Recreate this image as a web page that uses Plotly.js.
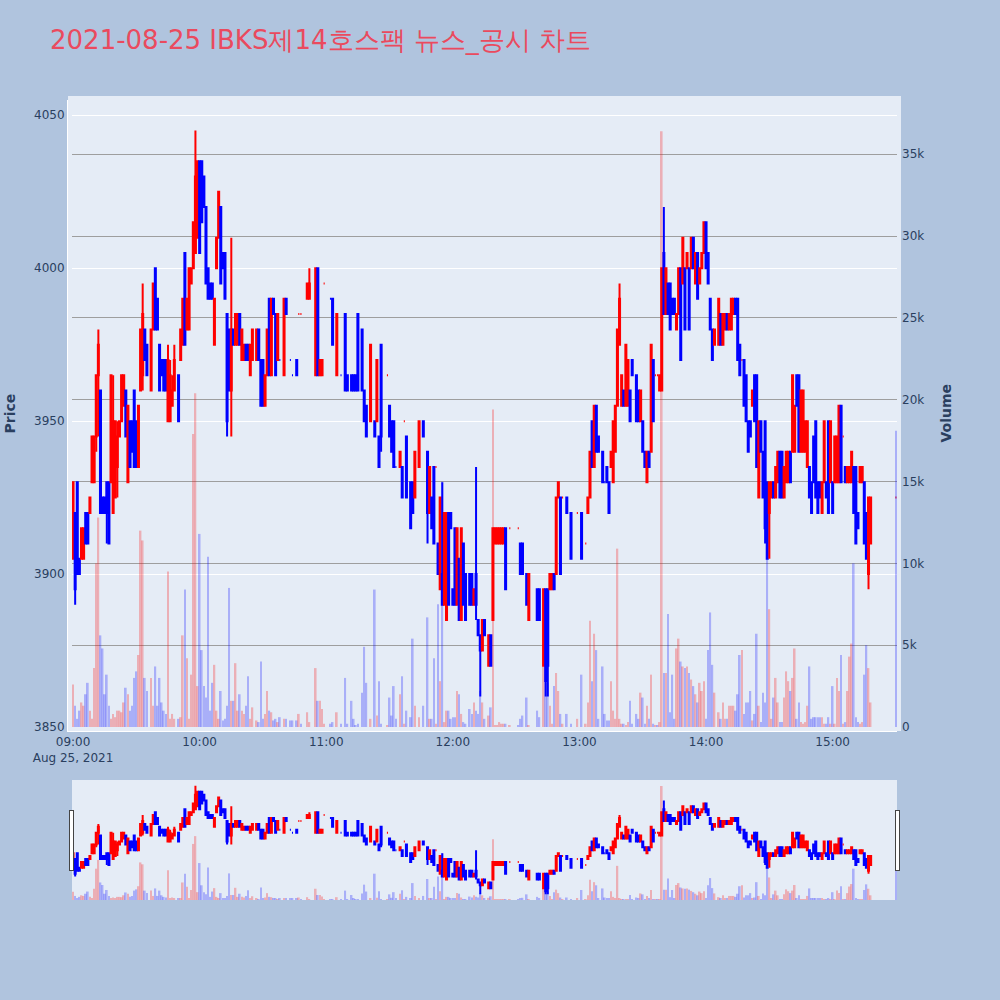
<!DOCTYPE html>
<html>
<head>
<meta charset="utf-8">
<script src="https://cdn.plot.ly/plotly-3.0.1.min.js"></script>
<style>html,body{margin:0;padding:0;background:#B0C4DE;}</style>
</head>
<body>
<div id="chart" style="width:1000px;height:1000px;"></div>
<script>
// minutes after 09:00 on 2021-08-25
const minutes = [0,1,2,3,4,5,6,7,8,9,10,11,12,13,14,15,16,17,18,19,20,21,22,23,24,25,26,27,28,29,30,31,32,33,34,35,37,38,39,40,41,42,43,44,45,46,47,48,50,51,52,53,54,55,56,57,58,59,60,61,62,63,64,65,66,67,68,69,70,71,72,73,74,75,76,77,78,79,80,81,82,83,84,85,87,88,89,90,91,92,93,94,95,96,97,98,100,101,103,104,106,107,108,111,112,115,116,117,118,119,122,123,125,127,129,130,132,133,134,135,137,138,139,141,143,144,145,146,149,150,151,152,153,155,156,157,158,160,161,162,164,166,168,169,170,171,172,173,174,175,176,177,178,179,180,181,182,183,184,185,186,188,189,190,191,192,193,194,195,197,198,199,200,201,202,203,204,205,207,211,212,213,215,216,220,221,223,224,225,226,227,228,229,230,231,232,234,236,239,241,243,244,245,246,247,248,249,251,252,253,254,255,256,257,258,259,260,261,262,263,264,265,267,268,269,270,271,272,273,274,275,276,277,278,279,280,281,282,283,284,285,286,287,288,289,290,291,292,293,294,295,296,297,298,299,300,301,302,303,304,306,307,308,309,310,311,312,313,314,315,316,317,318,319,320,321,322,323,324,325,326,327,328,329,330,331,332,333,334,335,336,337,338,339,340,341,342,343,344,345,346,347,348,349,350,351,352,353,354,355,356,357,358,359,360,361,362,363,364,365,366,367,368,369,370,371,372,373,374,375,376,377,378,390];
const openP = [3905,3920,3930,3905,3905,3905,3920,3920,3920,3930,3930,3945,3965,3960,3925,3925,3930,3930,3930,3920,3925,3935,3945,3950,3955,3960,3930,3950,3950,3960,3950,3935,3960,3965,3980,3975,3960,3980,4000,3990,3975,3970,3970,3970,3950,3950,3955,3960,3965,3970,3975,4005,3980,3980,3995,4000,4005,4010,4035,4035,4030,4020,4000,3995,3995,3975,4000,4010,4020,4005,4005,3985,3980,3960,3980,3975,3975,3985,3970,3970,3975,3975,3965,3970,3970,3980,3970,3970,3955,3965,3990,3965,3990,3985,3970,3970,3965,3990,3970,3965,3970,3985,3985,3990,3990,3965,4000,3965,3965,3995,3990,3990,3965,3965,3985,3965,3965,3965,3965,3985,3980,3960,3955,3950,3950,3950,3945,3975,3965,3955,3950,3950,3935,3935,3935,3950,3945,3930,3930,3925,3935,3950,3940,3920,3925,3935,3935,3910,3895,3900,3890,3885,3920,3920,3895,3915,3890,3905,3885,3910,3900,3900,3900,3890,3900,3885,3880,3875,3885,3870,3880,3885,3910,3910,3910,3910,3910,3915,3915,3915,3910,3910,3900,3885,3895,3895,3870,3895,3895,3895,3895,3900,3900,3925,3925,3925,3925,3920,3920,3920,3910,3920,3925,3950,3935,3955,3945,3940,3930,3935,3930,3935,3930,3940,3955,3975,3955,3960,3955,3955,3960,3970,3965,3960,3950,3950,3940,3930,3940,3940,3970,3965,3965,3960,3960,4005,3985,3995,3995,3990,3990,3980,3985,4000,3995,4000,4000,4000,4000,4010,3995,4005,3995,4000,4005,4015,4005,3990,3980,3975,3975,3985,3975,3980,3985,3980,3980,3985,3990,3990,3975,3970,3970,3965,3950,3950,3955,3965,3965,3925,3950,3940,3950,3930,3920,3925,3930,3925,3930,3940,3940,3925,3930,3930,3940,3940,3940,3965,3965,3940,3940,3940,3935,3935,3930,3945,3950,3930,3930,3920,3930,3930,3950,3930,3930,3930,3930,3930,3955,3945,3935,3930,3930,3930,3935,3935,3920,3930,3930,3930,3920,3900,3910,3925];
const highP = [3930,3920,3930,3905,3915,3915,3920,3920,3925,3945,3945,3965,3980,3960,3925,3925,3930,3930,3965,3965,3950,3950,3950,3965,3965,3960,3955,3950,3950,3960,3950,3955,3980,3995,3980,3975,3980,3995,4000,3990,3975,3970,3970,3970,3975,3970,3965,3975,3965,3980,3990,4005,3990,4000,4000,4015,4045,4035,4035,4035,4030,4020,4000,3995,3995,3990,4010,4025,4020,4005,4005,3985,3980,4010,3980,3985,3985,3985,3980,3975,3975,3975,3975,3980,3980,3980,3970,3970,3965,3980,3990,3990,3990,3985,3985,3970,3990,3990,3970,3965,3970,3985,3985,3995,4000,4000,4000,3970,3970,3995,3990,3990,3985,3965,3985,3965,3965,3965,3965,3985,3980,3960,3955,3975,3950,3970,3945,3975,3965,3955,3950,3950,3935,3940,3935,3950,3945,3930,3930,3940,3950,3950,3940,3935,3925,3935,3935,3910,3925,3930,3920,3920,3920,3920,3895,3915,3915,3905,3915,3910,3900,3900,3900,3895,3935,3885,3880,3885,3885,3880,3880,3915,3915,3915,3915,3915,3915,3915,3915,3915,3910,3910,3900,3900,3895,3895,3895,3895,3895,3900,3900,3900,3925,3930,3925,3925,3925,3920,3920,3920,3910,3925,3940,3950,3955,3955,3945,3940,3930,3935,3930,3940,3950,3955,3980,3995,3965,3960,3975,3970,3960,3970,3965,3960,3960,3950,3940,3940,3940,3975,3970,3965,3965,3965,4000,4020,4000,3995,3995,3990,3990,3985,4000,4000,4010,4000,4005,4000,4010,4010,4005,4005,4000,4005,4015,4015,4005,3990,3980,3980,3990,3985,3985,3985,3985,3985,3990,3990,3990,3990,3975,3970,3970,3965,3950,3950,3960,3965,3965,3950,3950,3940,3950,3930,3930,3930,3925,3935,3940,3940,3940,3935,3940,3940,3940,3965,3955,3965,3965,3960,3960,3950,3950,3935,3930,3945,3950,3930,3930,3930,3950,3930,3950,3950,3930,3945,3945,3955,3955,3945,3935,3935,3935,3940,3935,3935,3920,3935,3935,3930,3920,3925,3925,3925];
const lowP = [3905,3890,3900,3900,3905,3905,3910,3910,3920,3930,3930,3940,3945,3920,3920,3920,3910,3910,3930,3920,3925,3925,3945,3950,3955,3945,3930,3935,3940,3935,3935,3935,3960,3960,3970,3965,3960,3980,3980,3980,3960,3965,3960,3960,3950,3950,3955,3960,3950,3970,3975,3975,3980,3980,3995,4000,4005,4010,4005,4015,4020,3995,3990,3990,3990,3975,4000,4010,3995,4000,3990,3945,3960,3945,3975,3975,3975,3975,3970,3970,3970,3970,3965,3970,3970,3970,3955,3955,3955,3965,3965,3965,3985,3965,3970,3970,3965,3985,3970,3965,3965,3985,3985,3990,3990,3965,3965,3965,3965,3995,3990,3975,3965,3965,3960,3960,3960,3960,3960,3960,3960,3950,3945,3950,3945,3950,3935,3940,3965,3945,3940,3935,3935,3935,3925,3950,3925,3915,3920,3925,3935,3945,3910,3920,3915,3910,3935,3900,3895,3890,3890,3885,3890,3915,3890,3890,3890,3885,3885,3890,3885,3890,3890,3890,3885,3880,3860,3875,3880,3870,3870,3885,3910,3910,3910,3910,3910,3895,3915,3915,3900,3900,3890,3885,3885,3885,3870,3860,3860,3895,3895,3895,3900,3925,3900,3925,3920,3905,3920,3905,3910,3920,3925,3935,3935,3940,3940,3930,3930,3930,3920,3935,3930,3940,3955,3975,3955,3955,3955,3955,3950,3965,3950,3950,3950,3940,3935,3930,3935,3940,3950,3965,3965,3960,3960,3985,3985,3985,3980,3985,3985,3980,3985,3970,3995,3980,4000,3980,4000,4000,3995,3990,3995,4000,4005,4000,3995,3980,3970,3975,3975,3975,3975,3980,3980,3980,3980,3985,3985,3970,3965,3970,3955,3950,3940,3945,3955,3950,3935,3925,3940,3925,3910,3905,3905,3925,3925,3925,3930,3925,3925,3925,3930,3930,3930,3940,3940,3955,3940,3940,3940,3940,3935,3925,3920,3930,3925,3920,3925,3920,3930,3925,3920,3930,3920,3930,3930,3930,3930,3945,3930,3930,3930,3930,3920,3910,3915,3930,3930,3910,3905,3895,3910,3925];
const closeP = [3930,3895,3900,3900,3915,3915,3910,3910,3925,3945,3945,3965,3975,3920,3920,3920,3920,3910,3965,3950,3950,3945,3950,3965,3965,3945,3955,3935,3940,3935,3935,3955,3980,3985,3970,3965,3980,3995,3980,3980,3960,3965,3960,3960,3970,3965,3960,3970,3950,3980,3990,3975,3990,4000,4000,4015,4030,4035,4005,4015,4020,3995,3990,3990,3990,3990,4010,4025,3995,4000,3990,3950,3960,3980,3975,3985,3985,3975,3980,3975,3970,3970,3975,3980,3980,3970,3955,3955,3965,3980,3965,3990,3985,3965,3985,3970,3990,3985,3970,3965,3965,3985,3985,3995,3995,4000,3965,3970,3970,3995,3990,3975,3985,3965,3960,3960,3960,3960,3960,3960,3960,3950,3945,3975,3945,3970,3935,3945,3965,3945,3940,3935,3935,3940,3925,3950,3925,3915,3920,3940,3950,3945,3920,3935,3915,3910,3935,3900,3925,3890,3920,3920,3890,3915,3890,3890,3915,3885,3915,3890,3885,3890,3890,3895,3890,3880,3875,3885,3880,3880,3870,3915,3915,3915,3915,3915,3915,3895,3915,3915,3900,3900,3890,3900,3885,3885,3895,3865,3870,3900,3900,3895,3925,3930,3900,3925,3920,3905,3920,3905,3910,3925,3940,3935,3955,3940,3940,3930,3930,3930,3920,3940,3950,3955,3980,3990,3965,3955,3975,3970,3950,3965,3950,3950,3960,3940,3935,3940,3935,3975,3950,3965,3965,3965,4000,3985,4000,3985,3980,3985,3985,3985,4000,3970,4010,3980,4005,3980,4010,4000,4005,3990,4000,4005,4015,4000,3995,3980,3970,3980,3990,3975,3985,3985,3980,3985,3990,3990,3985,3970,3965,3970,3955,3950,3940,3945,3960,3950,3935,3950,3940,3925,3915,3905,3930,3930,3925,3935,3940,3925,3925,3935,3940,3940,3930,3965,3955,3955,3940,3960,3960,3950,3950,3925,3920,3930,3925,3920,3925,3930,3950,3925,3920,3950,3920,3945,3945,3955,3930,3945,3930,3935,3935,3940,3920,3910,3915,3935,3935,3910,3905,3925,3925,3925];
const volume = [2600,1300,500,1000,1500,1300,2000,2700,1000,500,3600,10000,12800,5600,4800,2000,3200,1300,500,800,600,1000,1000,900,1500,2400,2000,1000,1300,3000,3400,4400,12000,11400,3000,2200,3000,1300,3700,1300,3000,1500,1000,800,9500,500,800,500,500,600,5600,8400,4200,500,3200,17900,20400,2500,11800,4700,2500,1800,10400,1000,2700,3800,1000,500,2200,400,500,1300,8500,1600,1600,3900,1000,2000,1000,800,1300,3100,500,1200,400,300,4000,500,800,2200,1000,900,400,500,300,600,500,500,400,400,400,800,200,900,300,3600,1600,1600,1100,200,200,300,900,200,3000,200,1600,500,100,200,2100,4900,2700,500,8400,700,2800,200,100,1800,700,2500,500,2000,3100,200,1000,600,5400,1300,600,1300,6700,500,500,4200,200,7500,2800,15000,300,1000,1000,500,600,600,2200,2000,800,300,200,1100,800,1500,1000,800,2200,1500,500,700,1200,19400,100,100,300,200,200,200,100,100,500,700,1800,100,1000,600,3700,3700,2700,1300,200,2500,3300,2200,800,200,800,200,500,3200,200,1500,6500,2800,5700,4700,500,3700,800,400,400,2800,1000,500,10900,500,200,200,100,300,1600,200,800,500,2100,1800,200,1300,500,3200,200,100,100,300,36400,3300,3300,6900,900,3200,500,4800,5400,4000,3700,3600,3700,3300,2900,2500,2000,1500,2700,2200,2800,500,4700,7000,3800,2100,900,500,1500,500,500,1300,1300,1300,1000,2000,4400,4700,800,1500,1500,2200,400,800,5700,1300,300,2100,1500,11200,7200,500,1800,3000,1500,300,300,1800,3400,2800,2200,3000,4800,500,1500,300,200,300,1300,3700,500,600,600,600,600,600,200,200,600,200,2500,200,3000,2200,4400,200,300,2200,4300,5100,10000,600,300,200,300,3200,5000,3600,1500,18100];

const pad2 = n => String(n).padStart(2, '0');
const times = minutes.map(m => {
  const t = 9 * 60 + m;
  return '2021-08-25 ' + pad2(Math.floor(t / 60)) + ':' + pad2(t % 60) + ':00';
});
const volColors = closeP.map((c, i) => {
  if (c > openP[i]) return 'red';
  if (c < openP[i]) return 'blue';
  return (i > 0 && c > closeP[i - 1]) ? 'red' : 'blue';
});

const candle = {
  type: 'candlestick', x: times, open: openP, high: highP, low: lowP, close: closeP,
  increasing: {line: {color: 'red'}, fillcolor: 'red'},
  decreasing: {line: {color: 'blue'}, fillcolor: 'blue'},
  name: 'Price', xaxis: 'x', yaxis: 'y', showlegend: false
};
const bars = {
  type: 'bar', x: times, y: volume, name: 'Volume', xaxis: 'x', yaxis: 'y2',
  marker: {color: volColors, opacity: 0.26}, showlegend: false
};

const axisTitleFont = {size: 14, color: '#2a3f5f'};
const layout = {
  width: 1000, height: 1000,
  paper_bgcolor: '#B0C4DE', plot_bgcolor: '#E5ECF6',
  font: {family: 'DejaVu Sans, Verdana, sans-serif', color: '#2a3f5f', size: 12},
  title: {text: '2021-08-25 IBKS제14호스팩 뉴스_공시 차트', font: {size: 26, color: '#EA4A5E'},
          x: 0.05, xanchor: 'left', y: 0.96, yanchor: 'middle'},
  margin: {l: 72, r: 103, t: 100, b: 100, pad: 4},
  showlegend: false,
  xaxis: {type: 'date', showgrid: false, zeroline: false, linecolor: 'white',
          rangeslider: {visible: true, thickness: 0.15}},
  yaxis: {range: [3850, 4055], gridcolor: 'white', zeroline: false, linecolor: 'white', dtick: 50},
  yaxis2: {overlaying: 'y', side: 'right', gridcolor: '#9E9E9E', zeroline: false, rangemode: 'tozero'},
  annotations: [
    {text: '<b>Price</b>', xref: 'paper', yref: 'paper', x: -0.0752, y: 0.5,
     xanchor: 'center', yanchor: 'middle', textangle: -90, showarrow: false, font: axisTitleFont},
    {text: '<b>Volume</b>', xref: 'paper', yref: 'paper', x: 1.0582, y: 0.5,
     xanchor: 'center', yanchor: 'middle', textangle: -90, showarrow: false, font: axisTitleFont}
  ]
};

Plotly.newPlot('chart', [candle, bars], layout, {displayModeBar: false});
</script>
</body>
</html>
